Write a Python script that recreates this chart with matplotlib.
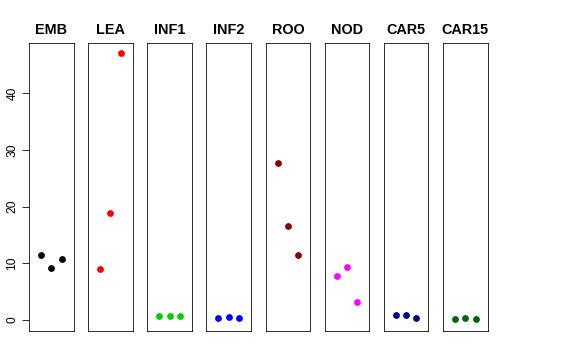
import matplotlib
matplotlib.use('Agg')
import matplotlib.pyplot as plt

plt.rcParams['font.family'] = ['Liberation Sans', 'DejaVu Sans']

# datos
grupos = ['EMB', 'LEA', 'INF1', 'INF2', 'ROO', 'NOD', 'CAR5', 'CAR15']
colores = ['black', 'red', '#00CD00', 'blue', '#8B0000', 'magenta', '#00008B', '#006400']
valores = [
    [11.5, 9.2, 10.8],
    [9.0, 18.9, 47.0],
    [0.65, 0.65, 0.7],
    [0.3, 0.6, 0.3],
    [27.6, 16.6, 11.5],
    [7.8, 9.3, 3.2],
    [0.9, 0.9, 0.4],
    [0.25, 0.35, 0.25],
]
posiciones = [1, 2, 3]
yticks = [0, 10, 20, 30, 40]

fig = plt.figure(figsize=(8, 5), dpi=72)

x0 = 29 / 576
ancho = 44.5 / 576
paso = 59.15 / 576
abajo = 29 / 360
alto = 288 / 360

for i, (g, c, v) in enumerate(zip(grupos, colores, valores)):
    ax = fig.add_axes([x0 + i * paso, abajo, ancho, alto])
    ax.plot(posiciones, v, 'o', color=c, markersize=6.8, markeredgewidth=0)
    ax.set_xlim(-0.16, 4.16)
    ax.set_ylim(-1.95, 48.85)
    ax.set_xticks([])
    for s in ax.spines.values():
        s.set_linewidth(0.8)
        s.set_color('black')
    ax.set_title(g, fontsize=14.4, fontweight='bold', pad=9)
    if i == 0:
        ax.set_yticks(yticks)
        ax.set_yticklabels([str(t) for t in yticks], rotation=90, va='center')
        ax.tick_params(axis='y', length=7.5, width=0.8, pad=3, labelsize=12)
    else:
        ax.set_yticks([])

plt.savefig('out.png', dpi=72)
